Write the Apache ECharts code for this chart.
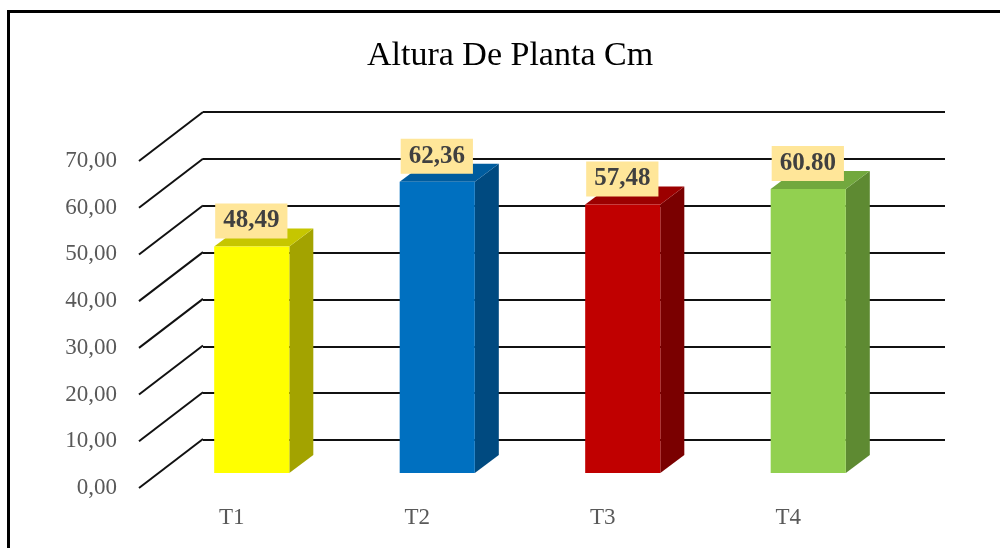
<!DOCTYPE html>
<html>
<head>
<meta charset="utf-8">
<title>Altura De Planta Cm</title>
<script src="https://cdn.jsdelivr.net/npm/echarts@6/dist/echarts.min.js"></script>
<style>
  html, body { margin: 0; padding: 0; background: #fff; }
  #chart { width: 1000px; height: 548px; }
</style>
</head>
<body>
<div id="chart"></div>
<script>
// data
var categories = ['T1', 'T2', 'T3', 'T4'];
var alturas = [48.49, 62.36, 57.48, 60.80];
var etiquetas = ['48,49', '62,36', '57,48', '60.80'];
var yTicks = [0, 10, 20, 30, 40, 50, 60, 70];

// colours per bar: front, side, top
var colores = [
  { front: '#FFFF00', side: '#A3A300', top: '#C6C600' },
  { front: '#0070C0', side: '#004A80', top: '#005C9E' },
  { front: '#C00000', side: '#7A0000', top: '#9C0000' },
  { front: '#92D050', side: '#5E8A32', top: '#72A83E' }
];

// depth of the fake 3d
var fondoX = 64, fondoY = 49;   // front plane -> back wall
var barX = 24, barY = 18;       // depth of a bar

var serif = "'Liberation Serif', 'Times New Roman', serif";

var chart = echarts.init(document.getElementById('chart'));

var option = {
  animation: false,
  title: {
    text: 'Altura De Planta Cm',
    left: 362,
    top: 34,
    textStyle: { fontFamily: serif, fontSize: 34, fontWeight: 'normal', color: '#000' }
  },
  graphic: [
    { type: 'line', shape: { x1: 8, y1: 11.5, x2: 1000, y2: 11.5 }, style: { stroke: '#000', lineWidth: 3 } },
    { type: 'line', shape: { x1: 8.5, y1: 10, x2: 8.5, y2: 548 }, style: { stroke: '#000', lineWidth: 3 } }
  ],
  grid: [
    // back wall
    { left: 203, right: 55, top: 112, bottom: 108 },
    // front plane (labels + diagonals)
    { left: 139, right: 119, top: 161, bottom: 60 },
    // plane of the bar front faces
    { left: 159, right: 99, top: 146, bottom: 75 }
  ],
  xAxis: [
    { gridIndex: 0, type: 'category', data: categories, show: false },
    {
      gridIndex: 1, type: 'category', data: categories,
      axisLine: { show: false }, axisTick: { show: false },
      axisLabel: { color: '#595959', fontFamily: serif, fontSize: 23, margin: 18 }
    },
    { gridIndex: 2, type: 'category', data: categories, show: false }
  ],
  yAxis: [
    {
      gridIndex: 0, type: 'value', min: 0, max: 70, interval: 10,
      axisLine: { show: false }, axisTick: { show: false }, axisLabel: { show: false },
      splitLine: { lineStyle: { color: '#111', width: 2 } }
    },
    {
      gridIndex: 1, type: 'value', min: 0, max: 70, interval: 10,
      axisLine: { show: false }, axisTick: { show: false }, splitLine: { show: false },
      axisLabel: {
        color: '#595959', fontFamily: serif, fontSize: 23, margin: 22,
        formatter: function (v) { return v.toFixed(2).replace('.', ','); }
      }
    },
    {
      gridIndex: 2, type: 'value', min: 0, max: 70, interval: 10, show: false
    }
  ],
  series: [
    {
      // diagonal part of each gridline, from the labels to the back wall
      type: 'custom',
      xAxisIndex: 1, yAxisIndex: 1,
      data: yTicks.map(function (v) { return [0, v]; }),
      renderItem: function (params, api) {
        var p = api.coord([0, api.value(1)]);
        var x0 = params.coordSys.x;
        return {
          type: 'line',
          shape: { x1: x0, y1: p[1], x2: x0 + fondoX, y2: p[1] - fondoY },
          style: { stroke: '#111', lineWidth: 2 }
        };
      },
      silent: true
    },
    {
      type: 'custom',
      xAxisIndex: 2, yAxisIndex: 2,
      data: alturas.map(function (v, i) { return [i, v]; }),
      renderItem: function (params, api) {
        var i = params.dataIndex;
        var top = api.coord([api.value(0), api.value(1)]);
        var base = api.coord([api.value(0), 0]);
        var w = api.size([1, 0])[0] * 0.405;
        var x1 = top[0] - w / 2, x2 = top[0] + w / 2;
        var c = colores[i];
        return {
          type: 'group',
          children: [
            {
              type: 'polygon',
              shape: { points: [[x2, top[1]], [x2 + barX, top[1] - barY], [x2 + barX, base[1] - barY], [x2, base[1]]] },
              style: { fill: c.side }
            },
            {
              type: 'polygon',
              shape: { points: [[x1, top[1]], [x1 + barX, top[1] - barY], [x2 + barX, top[1] - barY], [x2, top[1]]] },
              style: { fill: c.top }
            },
            {
              type: 'rect',
              shape: { x: x1, y: top[1], width: w, height: base[1] - top[1] },
              style: { fill: c.front }
            },
            {
              type: 'text',
              x: x1 + 1, y: top[1] - 8,
              style: {
                text: etiquetas[i],
                font: 'bold 25px ' + serif,
                fill: '#404040',
                align: 'left',
                verticalAlign: 'bottom',
                backgroundColor: '#FFE699',
                padding: [5, 8, 5, 8]
              }
            }
          ]
        };
      }
    }
  ]
};

chart.setOption(option);
</script>
</body>
</html>
